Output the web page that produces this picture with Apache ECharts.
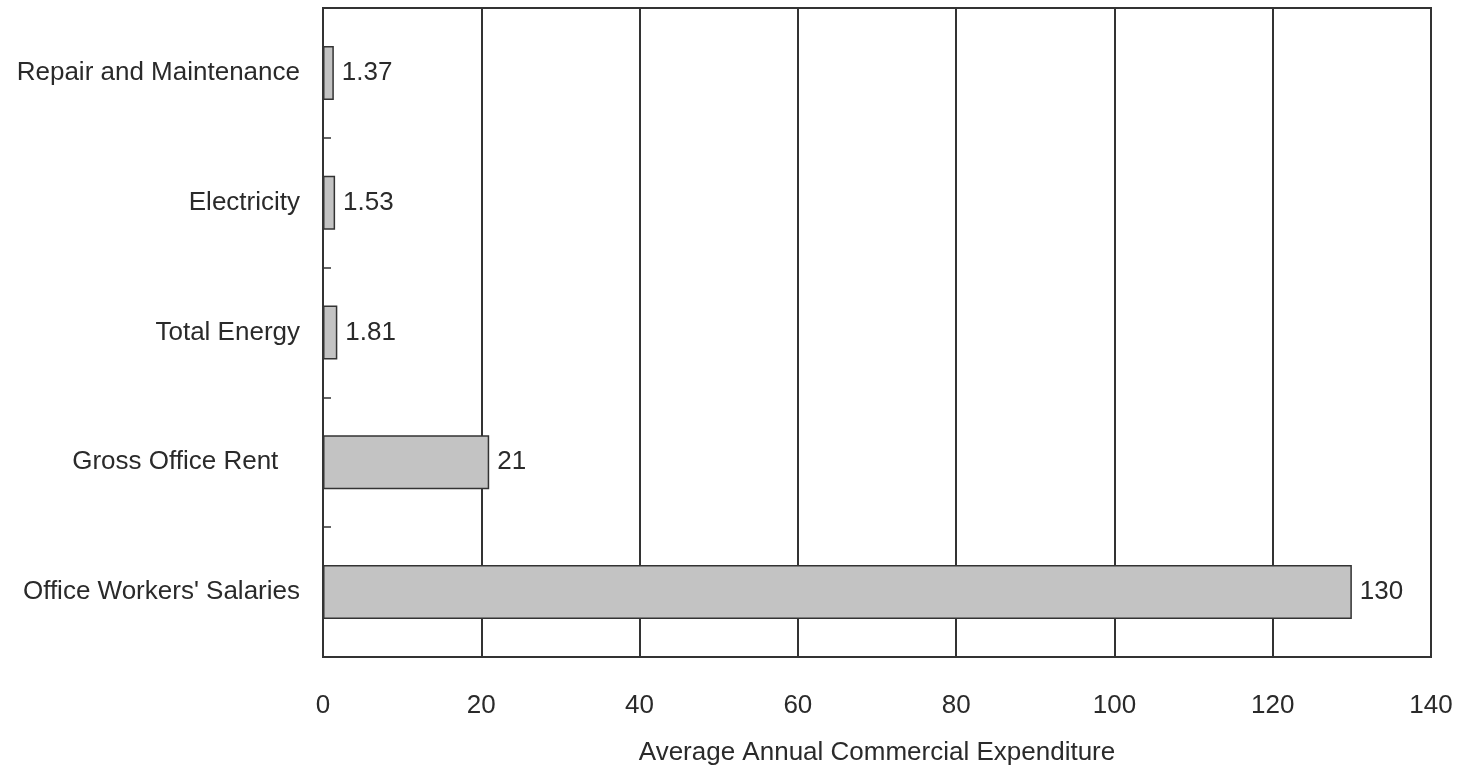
<!DOCTYPE html>
<html>
<head>
<meta charset="utf-8">
<script src="https://cdn.jsdelivr.net/npm/echarts@6/dist/echarts.min.js"></script>
<style>
  html, body { margin: 0; padding: 0; background: #fff; }
  #chart { width: 1462px; height: 768px; }
</style>
</head>
<body>
<div id="chart"></div>
<script>
// bottom to top, as the category axis draws them
const categories = [
  "Office Workers' Salaries",
  'Gross Office Rent   ',
  'Total Energy',
  'Electricity',
  'Repair and Maintenance'
]
const expenditure = [130, 21, 1.81, 1.53, 1.37]
const xTicks = { min: 0, max: 140, interval: 20 }

const font = 'Liberation Sans, Arial, sans-serif'
const ink = '#2a2a2a'

const chart = echarts.init(document.getElementById('chart'))
chart.setOption({
  animation: false,
  grid: {
    left: 323,
    right: 31,
    top: 8,
    bottom: 111,
    outerBoundsMode: 'none',
    show: true,
    borderColor: '#333',
    borderWidth: 2,
    backgroundColor: '#fff'
  },
  xAxis: {
    type: 'value',
    min: xTicks.min,
    max: xTicks.max,
    interval: xTicks.interval,
    name: 'Average Annual Commercial Expenditure',
    nameLocation: 'middle',
    nameGap: 83,
    nameTextStyle: { color: ink, fontSize: 26, fontFamily: font },
    axisLine: { show: true, lineStyle: { color: '#333', width: 2 } },
    axisTick: { show: false },
    axisLabel: { color: ink, fontSize: 26, fontFamily: font, margin: 36 },
    splitLine: { show: true, lineStyle: { color: '#333', width: 2 } }
  },
  yAxis: {
    type: 'category',
    data: categories,
    axisLine: { show: true, lineStyle: { color: '#333', width: 2 } },
    axisTick: { show: true, inside: true, length: 8, lineStyle: { color: '#333', width: 1.5 } },
    axisLabel: { color: ink, fontSize: 26, fontFamily: font, margin: 23, padding: [4, 0, 0, 0] },
    splitLine: { show: false }
  },
  series: [
    {
      type: 'bar',
      data: expenditure,
      barWidth: 54,
      itemStyle: { color: '#c3c3c3', borderColor: '#333', borderWidth: 1.5 },
      label: {
        show: true,
        position: 'right',
        distance: 8,
        color: ink,
        fontSize: 26,
        fontFamily: font,
        padding: [4, 0, 0, 0]
      }
    }
  ]
})
</script>
</body>
</html>
